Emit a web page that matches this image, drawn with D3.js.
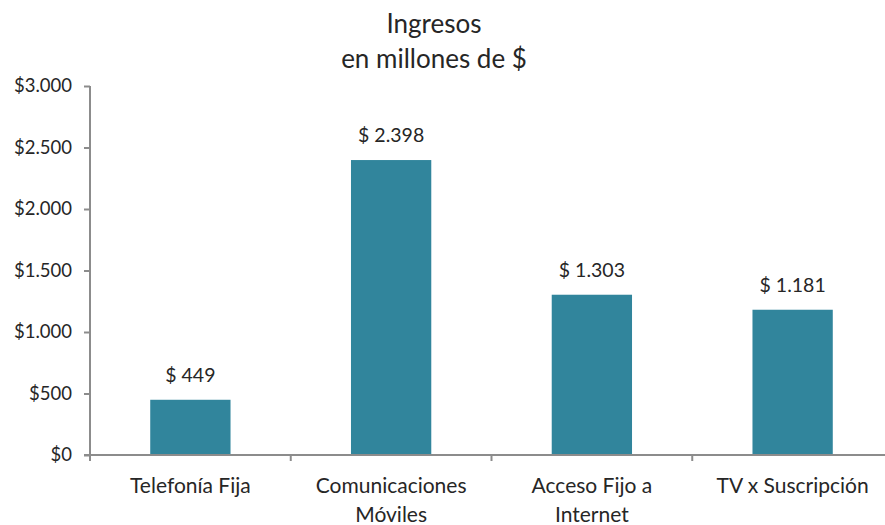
<!DOCTYPE html>
<html>
<head>
<meta charset="utf-8">
<script src="https://cdn.jsdelivr.net/npm/d3@7"></script>
<style>
  body { margin: 0; background: #fff; }
  svg { display: block; font-family: Lato, "Open Sans", sans-serif; }
</style>
</head>
<body>
<svg id="chart" width="885" height="525"></svg>
<script>
// datos
const categories = [
  ['Telefonía Fija'],
  ['Comunicaciones', 'Móviles'],
  ['Acceso Fijo a', 'Internet'],
  ['TV x Suscripción']
];
const ingresos = [449, 2398, 1303, 1181];
const yTicks = [0, 500, 1000, 1500, 2000, 2500, 3000];
const titleLines = ['Ingresos', 'en millones de $'];

const BAR = '#31859c';
const AXIS = '#8c8c8c';
const TEXT = '#262626';

const svg = d3.select('#chart');
const plotL = 90, plotR = 893, plotT = 86, plotB = 455;

const x = d3.scaleBand()
  .domain(d3.range(ingresos.length))
  .range([plotL, plotR])
  .paddingInner(0.6)
  .paddingOuter(0.3);

const y = d3.scaleLinear().domain([0, 3000]).range([plotB, plotT]);

// separador de miles con punto
const fmt = v => d3.format(',')(v).replace(/,/g, '.');

// título
svg.append('text')
  .attr('text-anchor', 'middle')
  .attr('fill', TEXT).attr('font-size', 26)
  .selectAll('tspan')
  .data(titleLines)
  .join('tspan')
  .attr('x', 434)
  .attr('y', (d, i) => 33 + i * 35)
  .text(d => d);

// barras
svg.append('g')
  .selectAll('rect')
  .data(ingresos)
  .join('rect')
  .attr('x', (d, i) => x(i))
  .attr('width', x.bandwidth())
  .attr('y', d => y(d))
  .attr('height', d => y(0) - y(d))
  .attr('fill', BAR);

// etiquetas de valores
svg.append('g')
  .selectAll('text')
  .data(ingresos)
  .join('text')
  .attr('x', (d, i) => x(i) + x.bandwidth() / 2)
  .attr('y', d => y(d) - 18)
  .attr('text-anchor', 'middle')
  .attr('fill', TEXT)
  .attr('font-size', 19.5)
  .text(d => '$ ' + fmt(d));

// eje Y
const yAxis = svg.append('g')
  .attr('transform', `translate(${plotL},0)`)
  .call(d3.axisLeft(y).tickValues(yTicks).tickSize(6).tickPadding(12).tickFormat(d => '$' + fmt(d)));
yAxis.select('.domain').remove();
yAxis.append('line')
  .attr('x1', 0).attr('x2', 0).attr('y1', plotT).attr('y2', plotB)
  .attr('stroke', AXIS).attr('stroke-width', 2);
yAxis.selectAll('line').attr('stroke', AXIS).attr('stroke-width', 2);
yAxis.selectAll('text').attr('fill', TEXT).attr('font-size', 18.5).attr('font-family', 'Lato, sans-serif');

// eje X (con marcas entre categorías)
const xEdges = d3.range(ingresos.length + 1).map(i => plotL + i * x.step());
const xg = svg.append('g');
xg.append('line')
  .attr('x1', plotL - 6).attr('x2', plotR)
  .attr('y1', plotB).attr('y2', plotB)
  .attr('stroke', AXIS).attr('stroke-width', 2);
xg.selectAll('line.tick')
  .data(xEdges)
  .join('line')
  .attr('class', 'tick')
  .attr('x1', d => d).attr('x2', d => d)
  .attr('y1', plotB).attr('y2', plotB + 6)
  .attr('stroke', AXIS).attr('stroke-width', 2);

// etiquetas de categorías
xg.selectAll('text')
  .data(categories)
  .join('text')
  .attr('text-anchor', 'middle')
  .attr('fill', TEXT)
  .attr('font-size', 21)
  .each(function (lines, i) {
    d3.select(this).selectAll('tspan')
      .data(lines)
      .join('tspan')
      .attr('x', x(i) + x.bandwidth() / 2)
      .attr('y', (d, j) => 493 + j * 29)
      .text(d => d);
  });
</script>
</body>
</html>
